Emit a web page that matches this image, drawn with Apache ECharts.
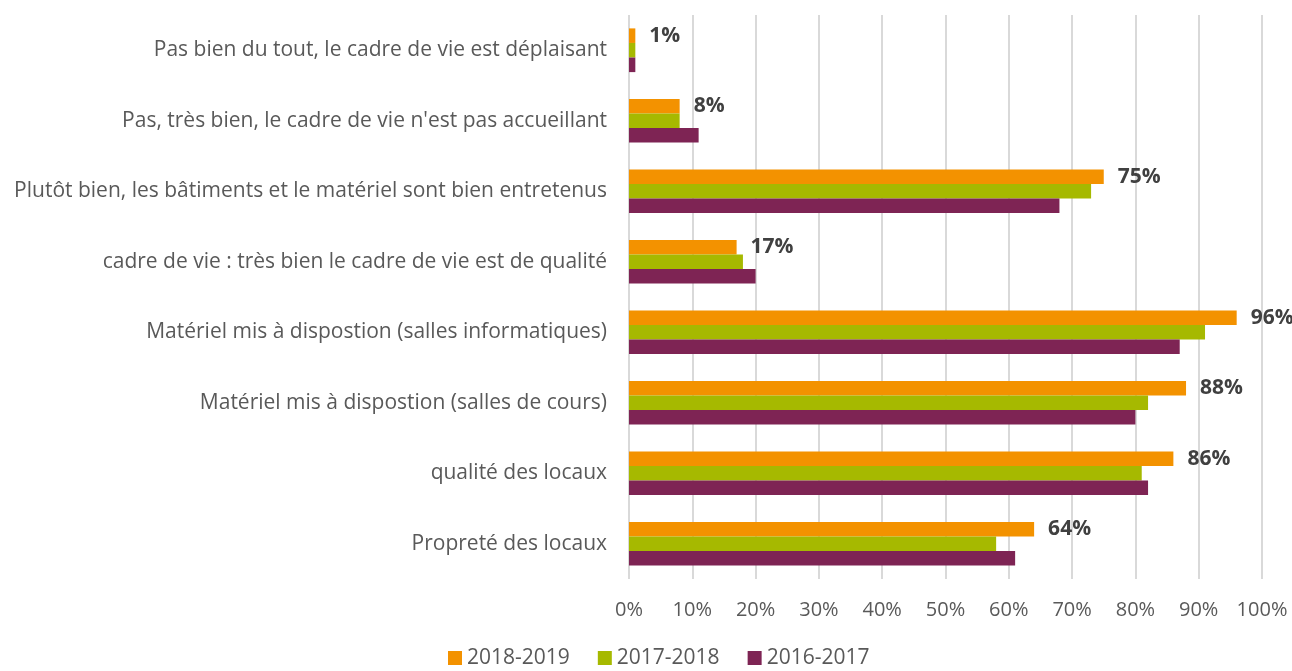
<!DOCTYPE html>
<html>
<head>
<meta charset="utf-8">
<script src="https://cdn.jsdelivr.net/npm/echarts@6/dist/echarts.min.js"></script>
<style>
  html, body { margin: 0; padding: 0; background: #fff; }
  #chart { width: 1292px; height: 671px; }
</style>
</head>
<body>
<div id="chart"></div>
<script>
// categories, top to bottom
const categories = [
  'Pas bien du tout, le cadre de vie est déplaisant',
  "Pas, très bien, le cadre de vie n'est pas accueillant",
  'Plutôt bien, les bâtiments et le matériel sont bien entretenus',
  'cadre de vie : très bien le cadre de vie est de qualité',
  'Matériel mis à dispostion (salles informatiques)',
  'Matériel mis à dispostion (salles de cours)',
  'qualité des locaux',
  'Propreté des locaux'
]
const years = ['2018-2019', '2017-2018', '2016-2017']
const v2018 = [1, 8, 75, 17, 96, 88, 86, 64]
const v2017 = [1, 8, 73, 18, 91, 82, 81, 58]
const v2016 = [1, 11, 68, 20, 87, 80, 82, 61]
const xTicks = [0, 10, 20, 30, 40, 50, 60, 70, 80, 90, 100]

const colors = ['#f39200', '#a6b900', '#7e2454']
const font = 'Open Sans'

let myChart = echarts.init(document.getElementById('chart'))

const option = {
  animation: false,
  textStyle: {fontFamily: font},
  grid: {left: 629, right: 30, top: 15, bottom: 92},
  legend: {
    data: years,
    left: 448,
    top: 646,
    padding: 0,
    itemWidth: 14,
    itemHeight: 14,
    itemGap: 28,
    icon: 'rect',
    textStyle: {fontSize: 21, lineHeight: 24, color: '#595959', fontFamily: font}
  },
  xAxis: {
    type: 'value',
    min: xTicks[0],
    max: xTicks[xTicks.length - 1],
    interval: 10,
    axisLabel: {
      formatter: '{value}%',
      fontSize: 20,
      color: '#595959',
      margin: 21,
      fontFamily: font
    },
    splitLine: {lineStyle: {color: '#d9d9d9', width: 2}},
    axisLine: {show: false},
    axisTick: {show: false}
  },
  yAxis: {
    type: 'category',
    inverse: true,
    data: categories,
    axisLabel: {fontSize: 21, color: '#595959', margin: 22, fontFamily: font},
    axisLine: {show: false},
    axisTick: {show: false}
  },
  series: [
    {
      name: years[0], type: 'bar', data: v2018,
      itemStyle: {color: colors[0]},
      barGap: '0%', barCategoryGap: '38%',
      label: {
        show: true, position: 'right', distance: 14,
        formatter: '{c}%', fontSize: 21, fontWeight: 'bold', color: '#404040',
        fontFamily: font
      }
    },
    {
      name: years[1], type: 'bar', data: v2017,
      itemStyle: {color: colors[1]},
      barGap: '0%', barCategoryGap: '38%'
    },
    {
      name: years[2], type: 'bar', data: v2016,
      itemStyle: {color: colors[2]},
      barGap: '0%', barCategoryGap: '38%'
    }
  ]
}

myChart.setOption(option)
</script>
</body>
</html>
